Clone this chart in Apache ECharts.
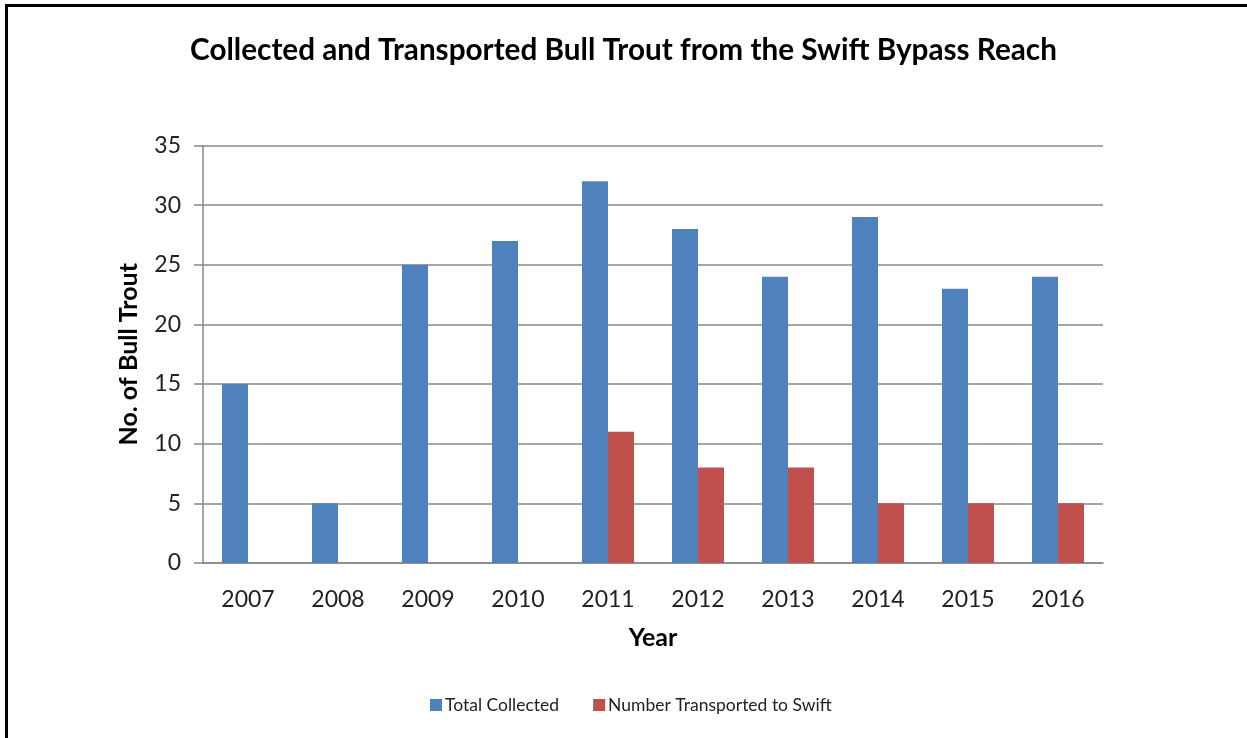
<!DOCTYPE html>
<html>
<head>
<meta charset="utf-8">
<script src="https://cdn.jsdelivr.net/npm/echarts@6/dist/echarts.min.js"></script>
<style>
html, body { margin: 0; padding: 0; background: #fff; }
#frame {
  position: absolute; left: 5px; top: 4px; width: 1242px; height: 734px;
  border-left: 3px solid #000; border-top: 3px solid #000;
}
#chart { position: absolute; left: 0; top: 0; width: 1247px; height: 738px; }
</style>
</head>
<body>
<div id="frame"></div>
<div id="chart"></div>
<script>
// data
const years = ['2007', '2008', '2009', '2010', '2011', '2012', '2013', '2014', '2015', '2016'];
const totalCollected = [15, 5, 25, 27, 32, 28, 24, 29, 23, 24];
const transported = [null, null, null, null, 11, 8, 8, 5, 5, 5];

const font = 'Lato, "Open Sans", sans-serif';

const option = {
  animation: false,
  title: {
    text: 'Collected and Transported Bull Trout from the Swift Bypass Reach',
    left: 'center',
    top: 30,
    textStyle: { fontFamily: font, fontSize: 29.7, fontWeight: 'bold', color: '#000' }
  },
  legend: {
    bottom: 19,
    left: 425,
    itemWidth: 12,
    itemHeight: 12,
    itemGap: 34,
    icon: 'rect',
    textStyle: { fontFamily: font, fontSize: 17.5, color: '#222', padding: [0, 0, 0, -2] },
    data: ['Total Collected', 'Number Transported to Swift']
  },
  grid: { left: 203, top: 145.5, right: 144, bottom: 175, containLabel: false },
  xAxis: {
    type: 'category',
    data: years,
    name: 'Year',
    nameLocation: 'middle',
    nameGap: 62,
    nameTextStyle: { fontFamily: font, fontSize: 25, fontWeight: 'bold', color: '#000' },
    axisLine: { lineStyle: { color: '#888', width: 1.5 } },
    axisTick: { show: false },
    axisLabel: { fontFamily: font, fontSize: 23, color: '#222', margin: 25 }
  },
  yAxis: {
    type: 'value',
    min: 0,
    max: 35,
    interval: 5,
    name: 'No. of Bull Trout',
    nameLocation: 'middle',
    nameGap: 62,
    nameTextStyle: { fontFamily: font, fontSize: 25, fontWeight: 'bold', color: '#000' },
    axisLine: { show: true, lineStyle: { color: '#888', width: 1.5 } },
    axisTick: { show: true, length: 9, lineStyle: { color: '#888', width: 1.5 } },
    splitLine: { lineStyle: { color: '#888', width: 1.5 } },
    axisLabel: { fontFamily: font, fontSize: 23, color: '#222', margin: 22 }
  },
  series: [
    {
      name: 'Total Collected',
      type: 'bar',
      data: totalCollected,
      barWidth: 26,
      barGap: '0%',
      itemStyle: { color: '#4F81BD' }
    },
    {
      name: 'Number Transported to Swift',
      type: 'bar',
      data: transported,
      barWidth: 26,
      itemStyle: { color: '#C0504D' }
    }
  ]
};

const chart = echarts.init(document.getElementById('chart'));
chart.setOption(option);
</script>
</body>
</html>
